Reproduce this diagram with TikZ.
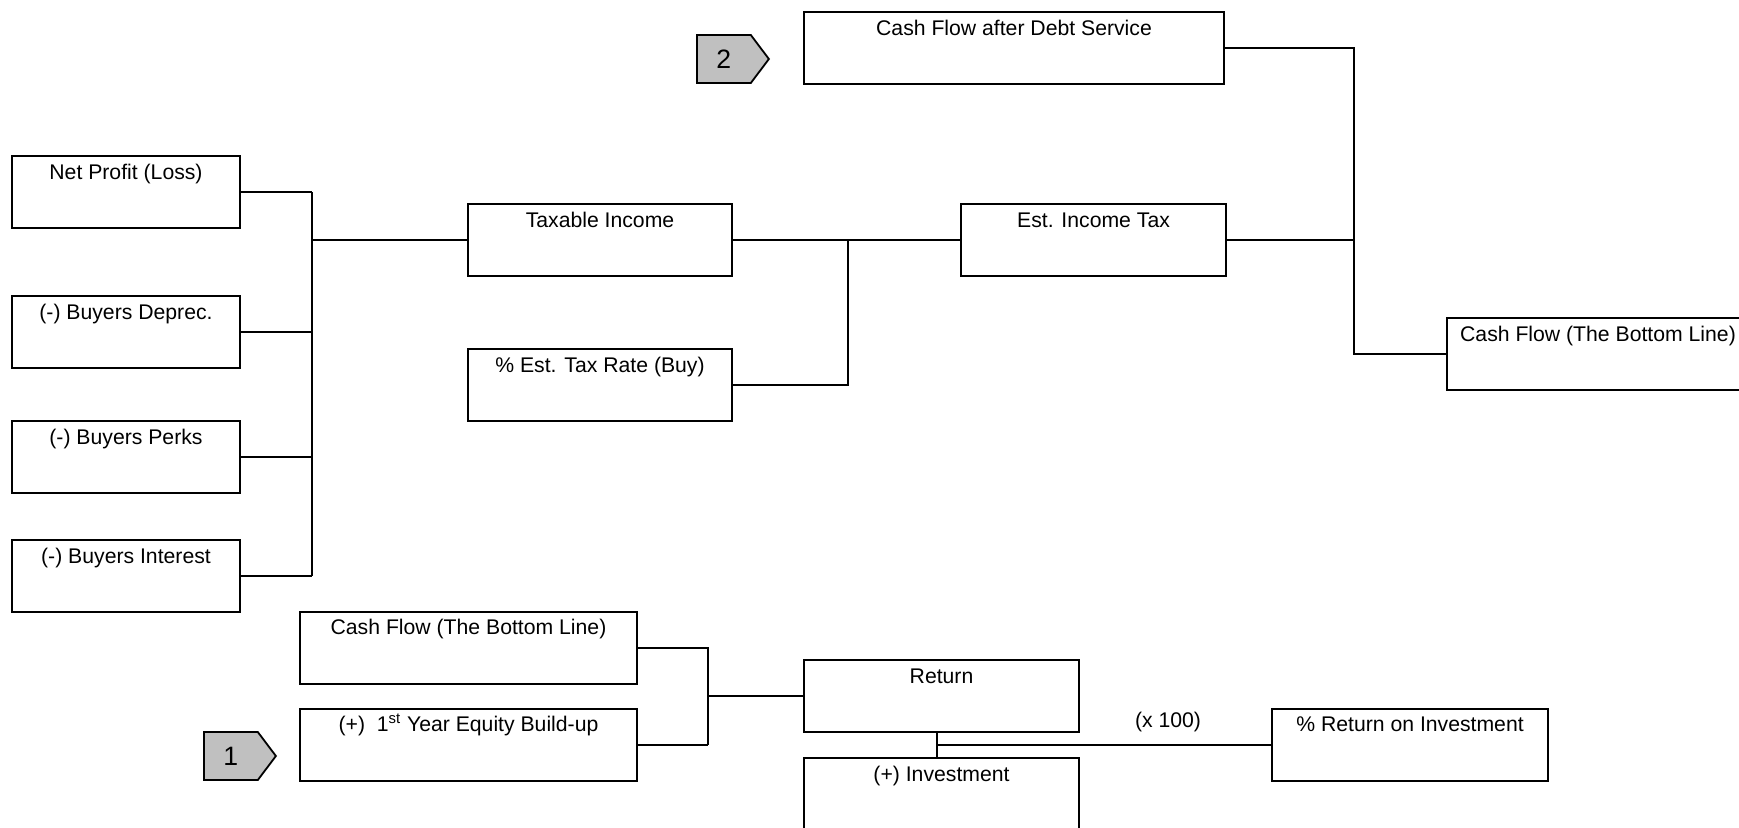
\documentclass[tikz,border=0pt]{standalone}
\usepackage{fontspec}
\setmainfont{Liberation Sans}
\usetikzlibrary{positioning, shapes.symbols}
\definecolor{markgray}{RGB}{192,192,192}
\newcommand{\boxfont}{\fontsize{10.6pt}{12pt}\selectfont}
\newcommand{\markfont}{\fontsize{13.3pt}{15pt}\selectfont}

\begin{document}
\begin{tikzpicture}[x=0.5pt, y=-0.5pt, box/.style={draw, line width=1pt, align=center, inner xsep=2pt, inner ysep=4pt, minimum height=36pt, text height=7.6pt, text depth=20.4pt, font=\boxfont}, link/.style={line width=1pt}, marker/.style={signal, signal to=east, signal pointer angle=106, draw, line width=0.9pt, fill=markgray, minimum width=36pt, minimum height=24pt, inner sep=0pt, font=\markfont}]
\useasboundingbox (0,0) rectangle (1739,827);

% left column
\node[box, minimum width=114pt] (net) at (126,192) {Net Profit (Loss)};
\node[box, minimum width=114pt, below=33pt of net] (deprec) {(-) Buyers Deprec.};
\node[box, minimum width=114pt, below=25.5pt of deprec] (perks) {(-) Buyers Perks};
\node[box, minimum width=114pt, below=22.5pt of perks] (interest) {(-) Buyers Interest};

% tax
\node[box, minimum width=132pt] (taxable) at (600,240) {Taxable Income};
\node[box, minimum width=132pt, below=35.5pt of taxable] (taxrate) {\% Est. Tax Rate (Buy)};
\node[box, minimum width=132.5pt, right=113.5pt of taxable] (incometax) {Est. Income Tax};
\node[box, minimum width=210pt] (cfads) at (1014,48) {Cash Flow after Debt Service};
\node[box, minimum width=151pt] (cfright) at (1598,354) {Cash Flow (The Bottom Line)};
\node[marker] (mktwo) at (696,59) [anchor=west] {2};

% return
\node[box, minimum width=168.5pt] (cfbottom) at (468.5,647.5) {Cash Flow (The Bottom Line)};
\node[box, minimum width=168.5pt, below=11.5pt of cfbottom] (equity) {(+)\ \ 1\textsuperscript{st} Year Equity Build-up};
\node[box, minimum width=137.5pt] (return) at (941.5,696) {Return};
\node[box, minimum width=137.5pt, text depth=22.4pt, below=12pt of return] (invest) {(+) Investment};
\node[box, minimum width=138pt] (roi) at (1410,744.5) {\% Return on Investment};
\node[marker] (mkone) at (203,756) [anchor=west] {1};
\node[font=\boxfont, anchor=base] (times) at (1168,727) {(x 100)};

\coordinate (busa) at (312,0); \coordinate (busb) at (848,0); \coordinate (busc) at (1354,0); \coordinate (busd) at (708,0); \coordinate (buse) at (937,745);

\draw[link](net.east)--(net.east -| busa);\draw[link](deprec.east)--(deprec.east -| busa);\draw[link](perks.east)--(perks.east -| busa);\draw[link](interest.east)--(interest.east -| busa);
\draw[link](net.east -| busa)--(interest.east -| busa);\draw[link](busa |- taxable.west)--(taxable.west);
\draw[link](taxable.east)--(incometax.west);\draw[link](taxrate.east)--(taxrate.east -| busb)--(busb |- taxable.east);
\draw[link](cfads.east)--(cfads.east -| busc)--(busc |- cfright.west)--(cfright.west);\draw[link](incometax.east)--(incometax.east -| busc);
\draw[link](cfbottom.east)--(cfbottom.east -| busd)--(busd |- equity.east);\draw[link](equity.east)--(equity.east -| busd);\draw[link](busd |- return.west)--(return.west);
\draw[link](return.south -| buse)--(invest.north -| buse);\draw[link](buse)--(roi.west -| buse)--(roi.west);

\end{tikzpicture}
\end{document}
